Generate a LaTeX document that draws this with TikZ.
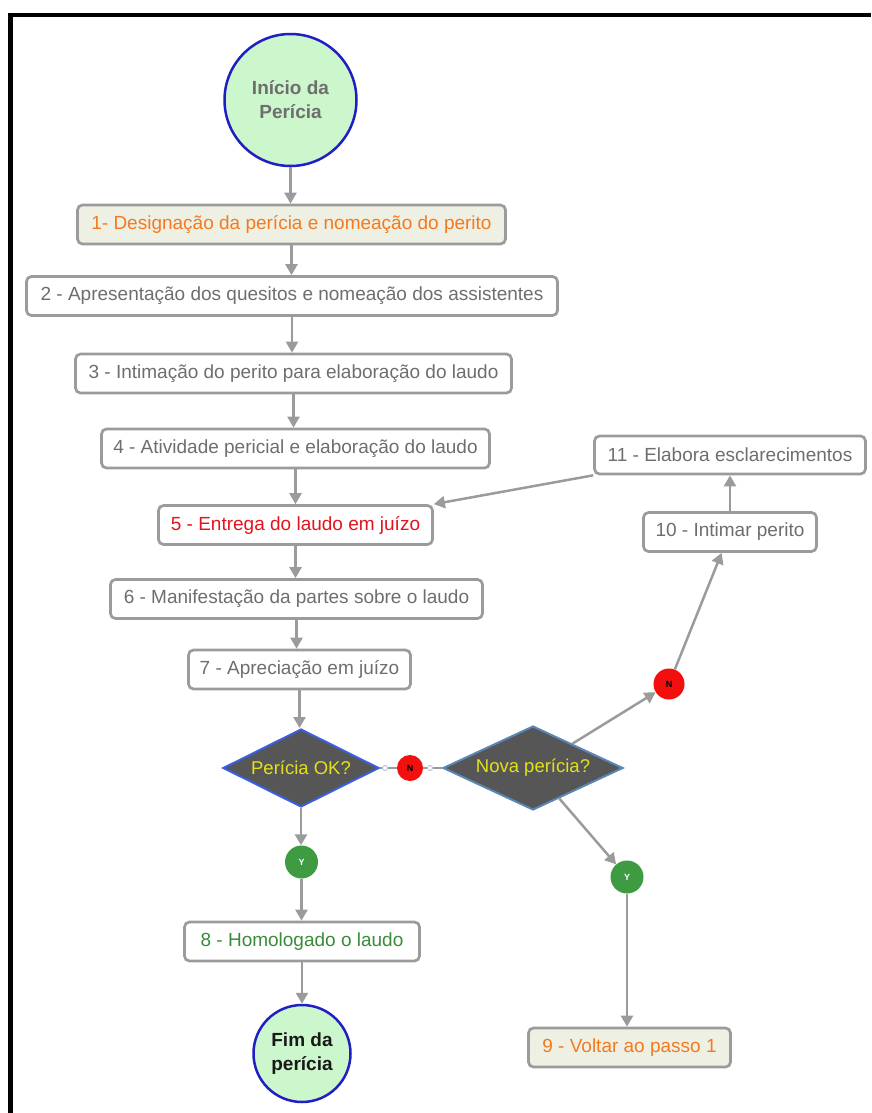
\documentclass[tikz,border=0pt]{standalone}
\usepackage{fontspec}
\setmainfont{Liberation Sans}
\usepackage{xcolor}
\usepackage{tikz}
\usetikzlibrary{arrows.meta,shapes.geometric}
\definecolor{boxline}{HTML}{9B9B9B}
\definecolor{boxtxt}{HTML}{6E6E6E}
\definecolor{beige}{HTML}{EEF0E3}
\definecolor{orangetxt}{HTML}{F37A1F}
\definecolor{redtxt}{HTML}{E3141E}
\definecolor{greentxt}{HTML}{3A8C3A}
\definecolor{decfill}{HTML}{565656}
\definecolor{decline}{HTML}{3A5FE0}
\definecolor{decline2}{HTML}{5A86B6}
\definecolor{dectxt}{HTML}{E2E21A}
\definecolor{termfill}{HTML}{CCF6CC}
\definecolor{termline}{HTML}{1F1FC4}
\definecolor{nored}{HTML}{F40F0F}
\definecolor{yesgreen}{HTML}{3E9B42}
\definecolor{handleblue}{HTML}{A9BBD6}

\begin{document}
\begin{tikzpicture}[x=1pt,y=-1pt,font=\fontsize{19}{23}\selectfont,
  stepbox/.style={draw=boxline,line width=2.7pt,rounded corners=5pt,fill=white,text=boxtxt,minimum height=39pt,inner sep=0pt},
  hlbox/.style={stepbox,fill=beige,text=orangetxt},
  decision/.style={diamond,draw=decline,line width=2pt,fill=decfill,text=dectxt,inner sep=0pt,font=\fontsize{18.5}{22}\selectfont},
  term/.style={circle,draw=termline,line width=2.5pt,fill=termfill,align=center,inner sep=0pt,font=\fontsize{19}{24}\selectfont\bfseries},
  nobub/.style={circle,fill=nored,minimum size=26pt,inner sep=0pt,font=\fontsize{9}{9}\selectfont\bfseries},
  yesbub/.style={circle,fill=yesgreen,minimum size=33pt,inner sep=0pt,text=white,font=\fontsize{9}{9}\selectfont\bfseries},
  handle/.style={circle,draw=handleblue,fill=white,line width=0.8pt,minimum size=5pt,inner sep=0pt},
  arr/.style={draw=boxline,line width=2.5pt,-{Triangle[length=11pt,width=12pt]}},
  conn/.style={draw=boxline,line width=1.3pt}]
\useasboundingbox (0,0) rectangle (871,1113);
\draw[line width=4.4pt] (10.5,1113) -- (10.5,15.3) -- (871,15.3);

\node[term,minimum size=132pt,text=boxtxt] (start) at (290.5,100) {Início da\\Perícia};
\node[hlbox,minimum width=428pt] (s1) at (291.5,224.5) {1- Designação da perícia e nomeação do perito};
\foreach \i/\x/\y/\w/\c/\lab in {
  2/292/296/531/boxtxt/{2 - Apresentação dos quesitos e nomeação dos assistentes},
  3/293.5/373.5/436/boxtxt/{3 - Intimação do perito para elaboração do laudo},
  4/295.5/448.5/388/boxtxt/{4 - Atividade pericial e elaboração do laudo},
  5/295.5/525/274/redtxt/{5 - Entrega do laudo em juízo},
  6/296.5/599/372/boxtxt/{6 - Manifestação da partes sobre o laudo},
  7/299.5/669.5/222/boxtxt/{7 - Apreciação em juízo}}{
  \node[stepbox,text=\c,minimum width=\w pt] (s\i) at (\x,\y) {\lab};
}
\node[stepbox,text=greentxt,minimum width=235pt] (s8) at (302,941.5) {8 - Homologado o laudo};
\node[hlbox,minimum width=202pt] (s9) at (629.5,1047.5) {9 - Voltar ao passo 1};
\node[stepbox,minimum width=173pt] (s10) at (730,532) {10 - Intimar perito};
\node[stepbox,minimum width=271pt,minimum height=38pt] (s11) at (730,455) {11 - Elabora esclarecimentos};

\node[decision,minimum width=156pt,minimum height=78pt,aspect=2] (d1) at (301,768) {Perícia OK?};
\node[decision,draw=decline2,minimum width=180pt,minimum height=84pt,aspect=2.1] (d2) at (533,768) {Nova perícia?};
\node[nobub] (n1) at (410,768) {N};
\node[nobub,minimum size=31pt] (n2) at (669,684) {N};
\node[yesbub] (y1) at (301.5,862) {Y};
\node[yesbub] (y2) at (627,877) {Y};
\node[handle] (h1) at (385,768) {};
\node[handle] (h2) at (430,768) {};
\node[term,minimum size=97pt,text=black!90] (fim) at (302,1053.5) {Fim da\\perícia};

\draw[arr] (start.south) -- (start.south |- s1.north);
\foreach \a/\b in {1/2,2/3,3/4,4/5,5/6,6/7}{
  \draw[arr] (s\a.south) -- (s\a.south |- s\b.north);
}
\draw[arr] (s7.south) -- (s7.south |- d1.north);
\draw[arr] (d1.south) -- (d1.south |- y1.north);
\draw[arr] (y1.south) -- (y1.south |- s8.north);
\draw[arr] (s8.south) -- (s8.south |- fim.north);
\draw[conn] (d1.east) -- (h1) -- (n1) -- (h2) -- (d2.west);
\draw[arr] (d2) -- (n2);
\draw[arr] (n2) -- (s10);
\draw[arr] (s10.north) -- (s10.north |- s11.south);
\draw[arr] (s11.south west) -- (s5.north east);
\draw[arr] (d2) -- (y2);
\draw[arr] (y2.south) -- (y2.south |- s9.north);
\end{tikzpicture}
\end{document}
